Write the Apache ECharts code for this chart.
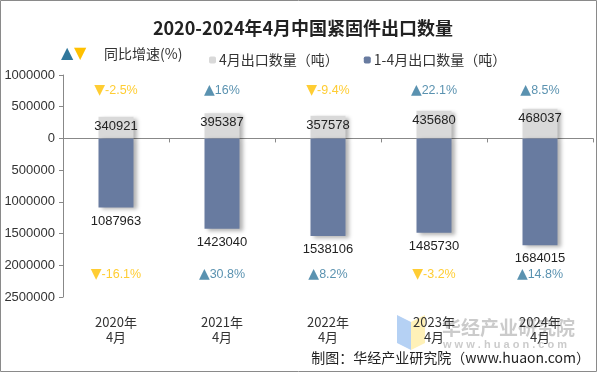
<!DOCTYPE html>
<html><head><meta charset="utf-8">
<script src="https://cdn.jsdelivr.net/npm/echarts@6/dist/echarts.min.js"></script>
<style>html,body{margin:0;padding:0;background:#fff}#c{width:597px;height:372px}</style>
</head><body><div id="c"></div>
<script>
const categories = ['2020年\n4月','2021年\n4月','2022年\n4月','2023年\n4月','2024年\n4月'];
const aprilExport = [340921, 395387, 357578, 435680, 468037];
const cumExport = [1087963, 1423040, 1538106, 1485730, 1684015];
const aprilGrowth = [-2.5, 16, -9.4, 22.1, 8.5];
const cumGrowth = [-16.1, 30.8, 8.2, -3.2, 14.8];

const UP = '#31779c', DOWN = '#ffc000';
const topRowY = 750000, bottomRowY = -2150000;
const fontCN = '"Noto Sans CJK SC", "Liberation Sans", sans-serif';
const fontLat = '"Liberation Sans", Arial, sans-serif';
const fontTri = '"DejaVu Sans", "Noto Sans CJK SC", sans-serif';

function growthLabel(v) {
  return v >= 0 ? '{ut|▲}{u|' + v + '%}' : '{dt|▼}{d|' + v + '%}';
}
const richG = {
  ut: {color: UP, fontSize: 14, fontFamily: fontTri},
  dt: {color: DOWN, fontSize: 14, fontFamily: fontTri},
  u: {color: UP, fontSize: 12.5, fontFamily: fontLat},
  d: {color: DOWN, fontSize: 12.5, fontFamily: fontLat}
};

const chart = echarts.init(document.getElementById('c'));
chart.setOption({
  animation: false,
  title: {
    text: '2020-2024年4月中国紧固件出口数量',
    left: 298, top: 14, textAlign: 'center',
    textStyle: {fontSize: 18, fontWeight: 'bold', color: '#222', fontFamily: fontCN}
  },
  legend: {
    left: 204, top: 48, itemWidth: 7, itemHeight: 7, itemGap: 25,
    data: ['4月出口数量（吨）', '1-4月出口数量（吨）'],
    textStyle: {fontSize: 14, color: '#333', fontFamily: fontCN, padding: [0, 0, 0, -2]}
  },
  graphic: [
    {type: 'rect', shape: {x: 0.5, y: 0.5, width: 596, height: 371}, style: {fill: 'none', stroke: '#8a8a8a', lineWidth: 1}, silent: true},
    {type: 'text', left: 61, top: 46, style: {text: '▲', fill: UP, fontSize: 16, fontFamily: fontTri}},
    {type: 'text', left: 74, top: 46, style: {text: '▼', fill: DOWN, fontSize: 16, fontFamily: fontTri}},
    {type: 'text', left: 104, top: 47, style: {text: '同比增速(%)', fill: '#333', fontSize: 14, fontFamily: fontCN}},
    {type: 'polygon', shape: {points: [[397, 315], [411, 322], [411, 350], [397, 343]]}, style: {fill: 'rgba(150,190,240,0.7)'}, silent: true},
    {type: 'polygon', shape: {points: [[411, 322], [425, 315], [425, 343], [411, 350]]}, style: {fill: 'rgba(255,236,160,0.75)'}, silent: true},
    {type: 'text', left: 442, top: 318, style: {text: '华经产业研究院', fill: 'rgba(140,140,140,0.45)', fontSize: 19, fontWeight: 'bold', fontFamily: fontCN}},
    {type: 'text', left: 443, top: 339, style: {text: 'w w w . h u a o n . c o m', fill: 'rgba(140,140,140,0.45)', fontSize: 11, fontWeight: 'bold', fontFamily: fontLat}},
    {type: 'text', right: 7, top: 351, style: {text: '制图：华经产业研究院（www.huaon.com）', fill: '#222', fontSize: 14, fontFamily: fontCN}}
  ],
  grid: {left: 63, right: 4, top: 75, bottom: 75},
  xAxis: [
    {
      type: 'category', data: categories, position: 'bottom',
      axisLine: {onZero: true, lineStyle: {color: '#888'}},
      axisTick: {show: true, length: 4, lineStyle: {color: '#888'}},
      axisLabel: {show: false}
    },
    {
      type: 'category', data: categories, position: 'bottom',
      axisLine: {show: false}, axisTick: {show: false},
      axisLabel: {show: true, margin: 18, color: '#333', fontSize: 13, lineHeight: 15, fontFamily: fontCN}
    }
  ],
  yAxis: {
    type: 'value', min: -2500000, max: 1000000, interval: 500000,
    axisLine: {show: true, lineStyle: {color: '#888'}},
    axisTick: {show: true, length: 4, lineStyle: {color: '#888'}},
    splitLine: {show: false},
    axisLabel: {color: '#333', fontSize: 13, margin: 8, fontFamily: fontLat,
      formatter: v => String(Math.abs(v))}
  },
  series: [
    {
      name: '4月出口数量（吨）', type: 'bar', barWidth: 35, barGap: '-100%',
      data: aprilExport,
      itemStyle: {color: '#d9d9d9', shadowColor: 'rgba(0,0,0,0.3)', shadowBlur: 4, shadowOffsetX: 3, shadowOffsetY: 2},
      label: {show: true, position: 'insideTop', distance: 2, color: '#222', fontSize: 13,
        fontFamily: fontLat, offset: [0, 1]}
    },
    {
      name: '1-4月出口数量（吨）', type: 'bar', barWidth: 35,
      data: cumExport.map(v => -v),
      itemStyle: {color: '#687ba0', shadowColor: 'rgba(0,0,0,0.3)', shadowBlur: 4, shadowOffsetX: 3, shadowOffsetY: 2},
      label: {show: true, position: 'bottom', distance: 7, color: '#222', fontSize: 13,
        fontFamily: fontLat,
        formatter: p => String(Math.abs(p.value))}
    },
    {
      name: 'g1', type: 'scatter', symbolSize: 0,
      data: aprilGrowth.map((g, i) => [i, topRowY, g]),
      label: {show: true, position: 'inside', formatter: p => growthLabel(p.value[2]), rich: richG}
    },
    {
      name: 'g2', type: 'scatter', symbolSize: 0,
      data: cumGrowth.map((g, i) => [i, bottomRowY, g]),
      label: {show: true, position: 'inside', formatter: p => growthLabel(p.value[2]), rich: richG}
    }
  ]
});
</script></body></html>
